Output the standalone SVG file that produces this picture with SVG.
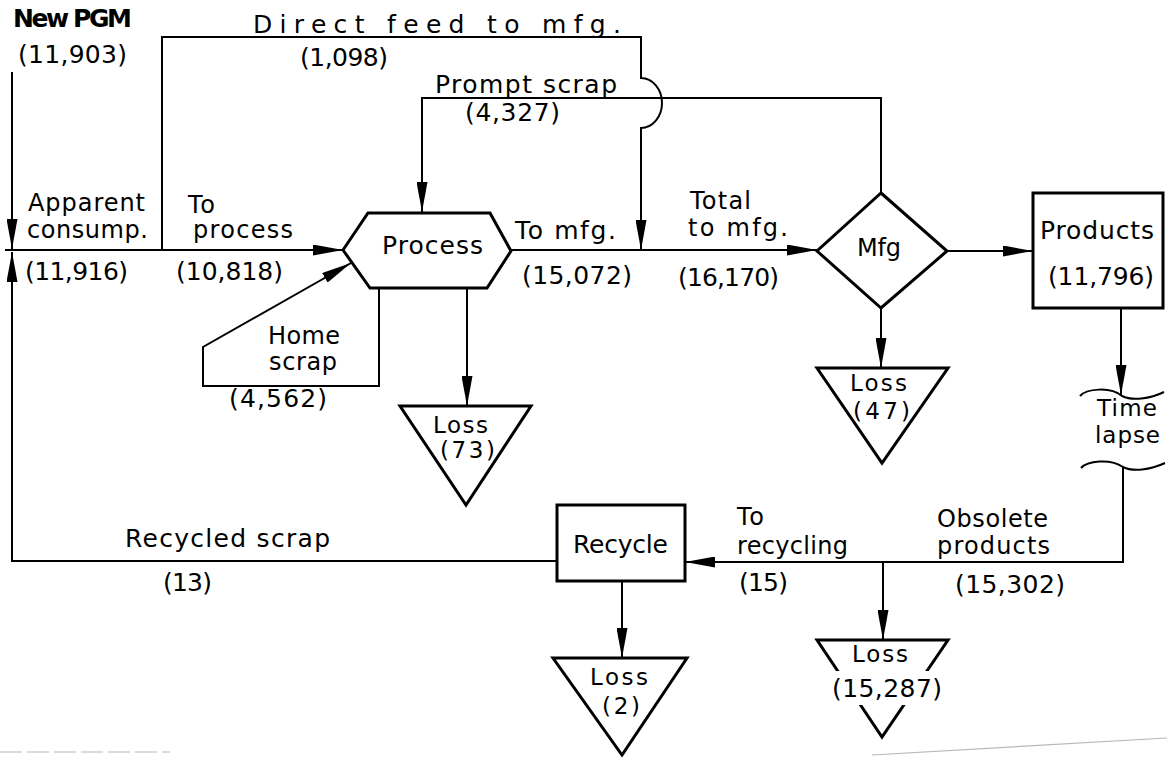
<svg xmlns="http://www.w3.org/2000/svg" width="1167" height="757" viewBox="0 0 1167 757">
<style>
.node{fill:#fff;stroke:#000;stroke-width:3;stroke-linejoin:miter}
.conn{fill:none;stroke:#000;stroke-width:2}
.t{font-family:"DejaVu Sans","Liberation Sans",Arial,sans-serif;font-size:25px;fill:#000}
.s{font-size:23px}
.m{font-size:24px}
.scan{fill:none;stroke:#b8b8b8;stroke-width:1.2}
</style>
<defs>
<marker id="arr" viewBox="0 0 30 11" refX="30" refY="5.5" markerWidth="30" markerHeight="11" markerUnits="userSpaceOnUse" orient="auto">
<path d="M0,0 L30,5.5 L0,11 z" fill="#000"/>
</marker>
</defs>
<rect width="1167" height="757" fill="#fff"/>

<g id="connectors">
<path class="conn" d="M12,72 V249" marker-end="url(#arr)"/>
<path class="conn" d="M558,561 H12 V252" marker-end="url(#arr)"/>
<path class="conn" d="M5,250 H343" marker-end="url(#arr)"/>
<path class="conn" d="M162,250 V37 H641 V78 A21 25 0 0 1 641,128 V250" marker-end="url(#arr)"/>
<path class="conn" d="M881,193 V98 H422 V212" marker-end="url(#arr)"/>
<path class="conn" d="M379,288 V386 H203 V347 L351,263" marker-end="url(#arr)"/>
<path class="conn" d="M467,288 V406" marker-end="url(#arr)"/>
<path class="conn" d="M511,250 H817" marker-end="url(#arr)"/>
<path class="conn" d="M881,308 V368" marker-end="url(#arr)"/>
<path class="conn" d="M947,251 H1033" marker-end="url(#arr)"/>
<path class="conn" d="M1121,308 V395" marker-end="url(#arr)"/>
<path class="conn" d="M1123,467 V562 H685" marker-end="url(#arr)"/>
<path class="conn" d="M883,562 V640" marker-end="url(#arr)"/>
<path class="conn" d="M622,581 V658" marker-end="url(#arr)"/>
</g>

<g id="process">
<polygon class="node" points="343,250 368,213 490,213 511,251 487,288 370,288"/>
<text class="t" x="382" y="254" textLength="101">Process</text>
</g>

<g id="mfg">
<polygon class="node" points="881,193 947,251 881,308 817,251"/>
<text class="t m" x="857" y="256" textLength="44">Mfg</text>
</g>

<g id="products">
<rect class="node" x="1033" y="193" width="130" height="115"/>
<text class="t" x="1040" y="239" textLength="114">Products</text>
<text class="t" x="1048" y="285" textLength="106">(11,796)</text>
</g>

<g id="time-lapse">
<path class="conn" d="M1080,396 C1086,389 1110,386 1122,396 C1132,401 1150,399 1164,392"/>
<path class="conn" d="M1081,468 C1087,461 1110,458 1123,467 C1133,472 1150,470 1165,463"/>
<text class="t s" x="1097" y="416" textLength="60">Time</text>
<text class="t s" x="1095" y="443" textLength="65">lapse</text>
</g>

<g id="recycle">
<rect class="node" x="557" y="505" width="128" height="76"/>
<text class="t" x="573" y="553" textLength="95">Recycle</text>
</g>

<g id="loss-process">
<polygon class="node" points="400,406 531,406 466,505"/>
<text class="t s" x="433" y="433" textLength="55">Loss</text>
<text class="t s" x="440" y="458" textLength="55">(73)</text>
</g>

<g id="loss-mfg">
<polygon class="node" points="817,368 948,368 882,463"/>
<text class="t s" x="850" y="391" textLength="57">Loss</text>
<text class="t s" x="853" y="419" textLength="57">(47)</text>
</g>

<g id="loss-recycle">
<polygon class="node" points="553,658 687,658 622,755"/>
<text class="t s" x="590" y="685" textLength="58">Loss</text>
<text class="t s" x="602" y="714" textLength="38">(2)</text>
</g>

<g id="loss-obsolete">
<polygon class="node" points="817,640 948,640 882,737"/>
<rect x="830" y="671" width="114" height="34" fill="#fff"/>
<text class="t s" x="852" y="662" textLength="56">Loss</text>
<text class="t" x="832" y="697" textLength="110">(15,287)</text>
</g>

<g id="labels">
<text class="t" x="13" y="27" textLength="119" font-weight="bold" font-size="21">New PGM</text>
<text class="t" x="18" y="63" textLength="109">(11,903)</text>
<text class="t" x="253" y="33" textLength="368">Direct feed to mfg.</text>
<text class="t" x="300" y="66" textLength="88">(1,098)</text>
<text class="t" x="435" y="93" textLength="182">Prompt scrap</text>
<text class="t" x="465" y="121" textLength="95">(4,327)</text>
<text class="t m" x="28" y="211" textLength="117">Apparent</text>
<text class="t m" x="27" y="238" textLength="121">consump.</text>
<text class="t" x="25" y="280" textLength="103">(11,916)</text>
<text class="t m" x="188" y="213" textLength="27">To</text>
<text class="t m" x="193" y="238" textLength="100">process</text>
<text class="t" x="176" y="280" textLength="107">(10,818)</text>
<text class="t" x="515" y="239" textLength="101">To mfg.</text>
<text class="t" x="522" y="284" textLength="110">(15,072)</text>
<text class="t m" x="690" y="209" textLength="61">Total</text>
<text class="t m" x="688" y="236" textLength="100">to mfg.</text>
<text class="t" x="678" y="286" textLength="101">(16,170)</text>
<text class="t m" x="268" y="344" textLength="72">Home</text>
<text class="t m" x="269" y="370" textLength="68">scrap</text>
<text class="t" x="229" y="407" textLength="98">(4,562)</text>
<text class="t" x="125" y="547" textLength="205">Recycled scrap</text>
<text class="t" x="163" y="591" textLength="49">(13)</text>
<text class="t m" x="737" y="525" textLength="27">To</text>
<text class="t m" x="737" y="554" textLength="111">recycling</text>
<text class="t" x="739" y="591" textLength="49">(15)</text>
<text class="t m" x="937" y="527" textLength="111">Obsolete</text>
<text class="t m" x="937" y="554" textLength="113">products</text>
<text class="t" x="955" y="593" textLength="110">(15,302)</text>
</g>

<g id="scan-edges">
<path class="scan" d="M0,752 H170" stroke-dasharray="22,5"/>
<path class="scan" d="M872,755 L1167,738"/>
</g>
</svg>
